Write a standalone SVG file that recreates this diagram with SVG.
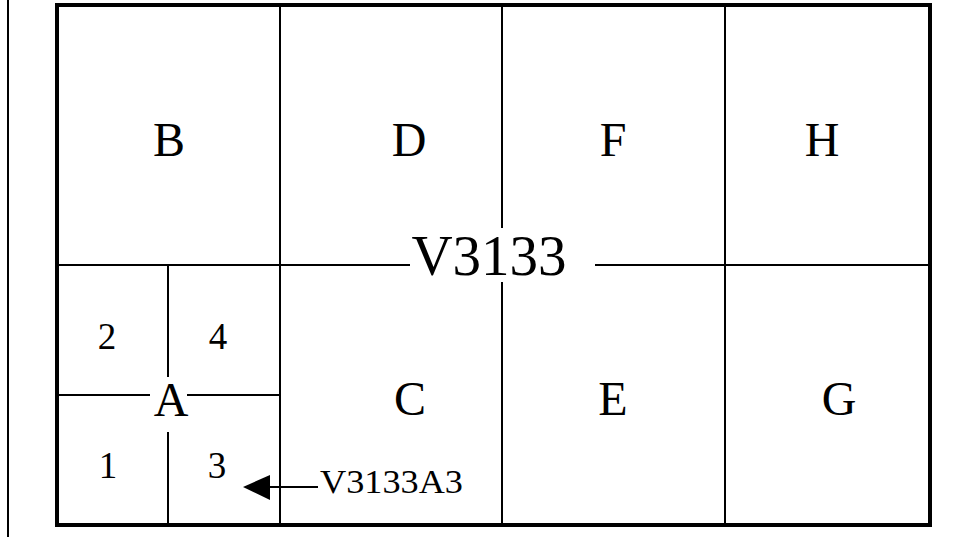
<svg xmlns="http://www.w3.org/2000/svg" width="955" height="537" viewBox="0 0 955 537">
<style>
.ln{stroke:#000;stroke-width:2;fill:none}
.big{font-family:"Liberation Serif","Times New Roman",serif;font-size:48px;text-anchor:middle;fill:#000}
.num{font-family:"Liberation Serif","Times New Roman",serif;font-size:37px;text-anchor:middle;fill:#000}
</style>
<rect width="955" height="537" fill="#fff"/>
<line class="ln" x1="8" y1="0" x2="8" y2="537"/>
<rect x="57" y="5" width="873" height="520" fill="none" stroke="#000" stroke-width="4"/>
<g id="grid">
<line class="ln" x1="57" y1="265" x2="410" y2="265"/>
<line class="ln" x1="595" y1="265" x2="930" y2="265"/>
<line class="ln" x1="280" y1="5" x2="280" y2="525"/>
<line class="ln" x1="502" y1="5" x2="502" y2="228"/>
<line class="ln" x1="502" y1="282" x2="502" y2="525"/>
<line class="ln" x1="725" y1="5" x2="725" y2="525"/>
<line class="ln" x1="168" y1="265" x2="168" y2="377"/>
<line class="ln" x1="168" y1="432" x2="168" y2="525"/>
<line class="ln" x1="57" y1="395" x2="150" y2="395"/>
<line class="ln" x1="187" y1="395" x2="280" y2="395"/>
</g>
<g id="B"><text class="big" x="169" y="156">B</text></g>
<g id="D"><text class="big" x="409" y="156">D</text></g>
<g id="F"><text class="big" x="613" y="156">F</text></g>
<g id="H"><text class="big" x="822" y="156">H</text></g>
<g id="C"><text class="big" x="410" y="415">C</text></g>
<g id="E"><text class="big" x="613" y="415">E</text></g>
<g id="G"><text class="big" x="839" y="415">G</text></g>
<g id="A"><text class="big" x="171" y="416">A</text></g>
<g id="V3133"><text class="big" x="489" y="275" style="font-size:57px">V3133</text></g>
<g id="A2"><text class="num" x="107" y="349">2</text></g>
<g id="A4"><text class="num" x="218" y="349">4</text></g>
<g id="A1"><text class="num" x="108" y="478">1</text></g>
<g id="A3"><text class="num" x="217" y="478">3</text></g>
<g id="connectors">
<line class="ln" x1="266" y1="487" x2="318" y2="487"/>
<polygon points="243,487 270,475 270,500" fill="#000"/>
</g>
<g id="label-V3133A3"><text x="320" y="493" style="font-family:'Liberation Serif','Times New Roman',serif;font-size:33px;fill:#000" textLength="143" lengthAdjust="spacingAndGlyphs">V3133A3</text></g>
</svg>
